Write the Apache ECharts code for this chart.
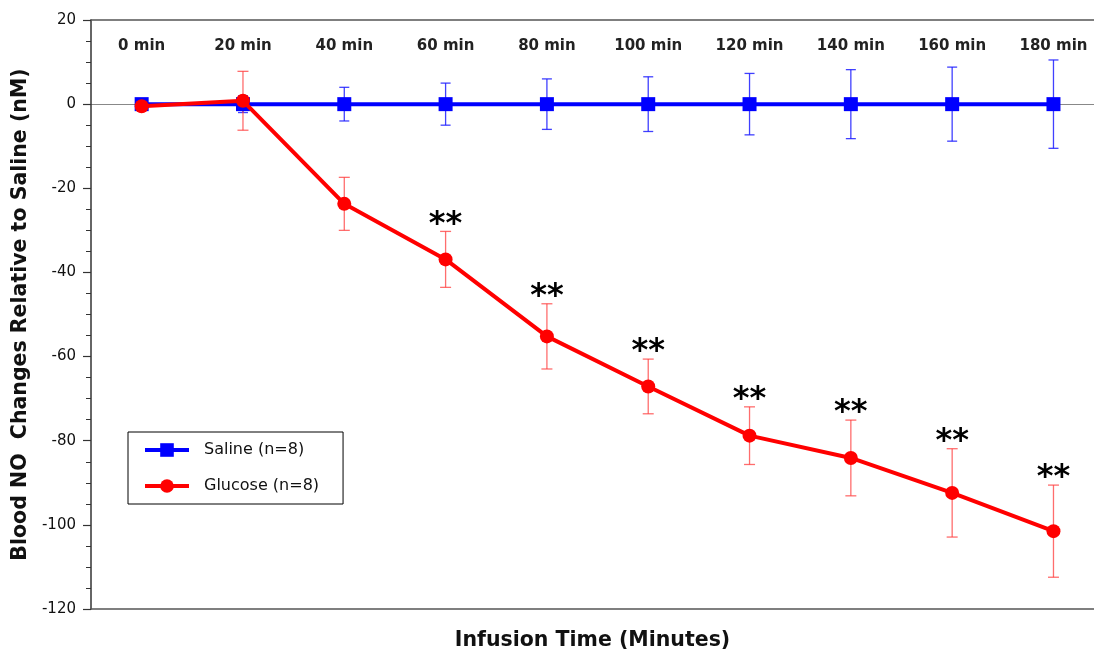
<!DOCTYPE html>
<html>
<head>
<meta charset="utf-8">
<script src="https://cdn.jsdelivr.net/npm/echarts@6/dist/echarts.min.js"></script>
<style>
html,body{margin:0;padding:0;background:#fff;}
#chart{width:1094px;height:656px;}
</style>
</head>
<body>
<div id="chart"></div>
<script>
// ---- data ----
const times = [0, 20, 40, 60, 80, 100, 120, 140, 160, 180];
const timeLabels = ['0 min', '20 min', '40 min', '60 min', '80 min', '100 min', '120 min', '140 min', '160 min', '180 min'];
const salineMean = [0, 0, 0, 0, 0, 0, 0, 0, 0, 0];
const salineSE = [0, 2.0, 4.0, 5.0, 6.0, 6.5, 7.3, 8.2, 8.8, 10.5];
const glucoseMean = [-0.5, 0.8, -23.7, -36.9, -55.2, -67.1, -78.8, -84.1, -92.4, -101.5];
const glucoseSE = [0, 7.0, 6.3, 6.65, 7.75, 6.5, 6.85, 9.0, 10.5, 10.95];
const significance = ['', '', '', '**', '**', '**', '**', '**', '**', '**'];
const yTicks = { min: -120, max: 20, interval: 20 };

const FONT = '"DejaVu Sans", sans-serif';

const chart = echarts.init(document.getElementById('chart'), null, { renderer: 'canvas' });

function errData(mean, se, sig) {
  return times.map((t, i) => [t, mean[i] - se[i], mean[i] + se[i], sig ? (sig[i] ? 1 : 0) : 0]);
}

function makeErrRender(color, capW, withStars) {
  return function (params, api) {
    const x = api.value(0), lo = api.value(1), hi = api.value(2), star = api.value(3);
    const pLo = api.coord([x, lo]);
    const pHi = api.coord([x, hi]);
    const children = [];
    if (hi - lo > 0) {
      const ls = { stroke: color, lineWidth: 1.3 };
      children.push({ type: 'line', shape: { x1: pLo[0], y1: pLo[1], x2: pHi[0], y2: pHi[1] }, style: ls });
      children.push({ type: 'line', shape: { x1: pLo[0] - capW / 2, y1: pLo[1], x2: pLo[0] + capW / 2, y2: pLo[1] }, style: ls });
      children.push({ type: 'line', shape: { x1: pHi[0] - capW / 2, y1: pHi[1], x2: pHi[0] + capW / 2, y2: pHi[1] }, style: ls });
    }
    if (withStars && star) {
      children.push({
        type: 'text',
        style: {
          text: significance[params.dataIndex],
          x: pHi[0], y: pHi[1] - 7,
          align: 'center', verticalAlign: 'middle',
          fontSize: 32, fontWeight: 'bold', fontFamily: FONT, fill: '#000'
        }
      });
    }
    return { type: 'group', children: children };
  };
}

const option = {
  backgroundColor: '#ffffff',
  animation: false,
  grid: { left: 91, right: 0, top: 20, bottom: 46, containLabel: false },
  legend: {
    data: ['Saline (n=8)', 'Glucose (n=8)'],
    orient: 'vertical',
    left: 128, top: 432,
    padding: [10, 24, 10, 15],
    itemGap: 20,
    itemWidth: 44, itemHeight: 17,
    borderColor: '#000', borderWidth: 1, borderRadius: 0,
    backgroundColor: '#fff',
    lineStyle: { width: 4 },
    textStyle: { fontFamily: FONT, fontSize: 16, color: '#111', padding: [0, 0, 0, 10] }
  },
  xAxis: [
    {
      type: 'value', position: 'bottom', min: -10, max: 188,
      axisLine: { show: true, onZero: false, lineStyle: { color: '#555', width: 1.5 } },
      axisTick: { show: false }, axisLabel: { show: false }, splitLine: { show: false },
      name: 'Infusion Time (Minutes)', nameLocation: 'middle', nameGap: 21,
      nameTextStyle: { fontFamily: FONT, fontSize: 20.5, fontWeight: 'bold', color: '#111' }
    },
    {
      type: 'value', position: 'top', min: -10, max: 188,
      axisLine: { show: true, onZero: false, lineStyle: { color: '#555', width: 1.5 } },
      axisTick: { show: false }, splitLine: { show: false },
      axisLabel: {
        inside: true, margin: 19,
        customValues: times,
        formatter: function (v) { const i = times.indexOf(v); return i >= 0 ? timeLabels[i] : ''; },
        fontFamily: FONT, fontSize: 15, fontWeight: 'bold', color: '#222'
      }
    }
  ],
  yAxis: {
    type: 'value', min: yTicks.min, max: yTicks.max, interval: yTicks.interval,
    axisLine: { show: true, onZero: false, lineStyle: { color: '#333', width: 1.5 } },
    axisTick: { show: true, length: 8, lineStyle: { color: '#333', width: 1.2 } },
    minorTick: { show: true, splitNumber: 4, length: 5, lineStyle: { color: '#333', width: 1 } },
    splitLine: { show: false },
    axisLabel: { margin: 15, fontFamily: FONT, fontSize: 15, color: '#111' },
    name: 'Blood NO  Changes Relative to Saline (nM)', nameLocation: 'middle', nameGap: 58,
    nameTextStyle: { fontFamily: FONT, fontSize: 20.5, fontWeight: 'bold', color: '#111' }
  },
  series: [
    {
      name: 'salineErr', type: 'custom', xAxisIndex: 0, z: 1,
      renderItem: makeErrRender('rgba(30,30,255,0.85)', 10, false),
      data: errData(salineMean, salineSE, null), silent: true
    },
    {
      name: 'glucoseErr', type: 'custom', xAxisIndex: 0, z: 1,
      renderItem: makeErrRender('rgba(255,60,60,0.75)', 11, true),
      data: errData(glucoseMean, glucoseSE, significance), silent: true
    },
    {
      name: 'Saline (n=8)', type: 'line', xAxisIndex: 0, z: 3,
      data: times.map((t, i) => [t, salineMean[i]]),
      symbol: 'rect', symbolSize: 14,
      lineStyle: { color: '#0000FF', width: 4 },
      itemStyle: { color: '#0000FF' },
      markLine: {
        silent: true, symbol: 'none', z: 0, label: { show: false },
        lineStyle: { color: '#888', width: 1, type: 'solid' },
        data: [{ yAxis: 0 }]
      }
    },
    {
      name: 'Glucose (n=8)', type: 'line', xAxisIndex: 0, z: 4,
      data: times.map((t, i) => [t, glucoseMean[i]]),
      symbol: 'circle', symbolSize: 14,
      lineStyle: { color: '#FF0000', width: 4 },
      itemStyle: { color: '#FF0000' }
    }
  ]
};
chart.setOption(option);
</script>
</body>
</html>
